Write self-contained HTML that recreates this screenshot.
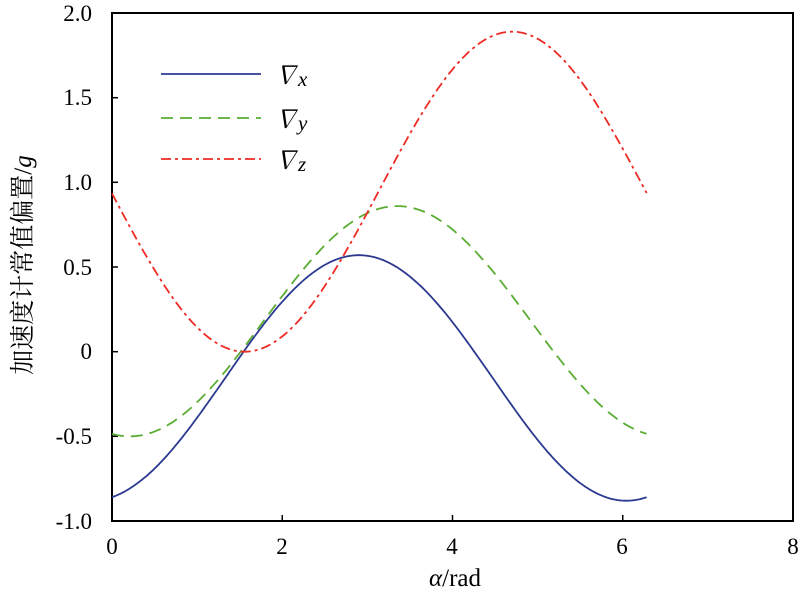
<!DOCTYPE html>
<html><head><meta charset="utf-8"><style>
body{margin:0;background:#fff}
svg text{font-family:"Liberation Serif","Noto Serif CJK SC",serif;fill:#000}
</style></head><body>
<svg id="s" width="800" height="592" viewBox="0 0 800 592" xmlns="http://www.w3.org/2000/svg">
<rect x="112" y="13" width="681" height="508" fill="none" stroke="#000" stroke-width="2"/>
<g stroke="#000" stroke-width="1.5">
<line x1="282.25" y1="521" x2="282.25" y2="515"/><line x1="452.5" y1="521" x2="452.5" y2="515"/><line x1="622.75" y1="521" x2="622.75" y2="515"/>
<line x1="112" y1="436.3" x2="118" y2="436.3"/><line x1="112" y1="351.7" x2="118" y2="351.7"/><line x1="112" y1="267" x2="118" y2="267"/><line x1="112" y1="182.3" x2="118" y2="182.3"/><line x1="112" y1="97.7" x2="118" y2="97.7"/>
</g>
<g font-size="23" text-anchor="middle">
<text x="112" y="554">0</text><text x="282" y="554">2</text><text x="452" y="554">4</text><text x="622" y="554">6</text><text x="793" y="554">8</text>
</g>
<g font-size="23" text-anchor="end">
<text x="92" y="529">-1.0</text><text x="92" y="444">-0.5</text><text x="92" y="359">0</text><text x="92" y="275">0.5</text><text x="92" y="190">1.0</text><text x="92" y="105">1.5</text><text x="92" y="21">2.0</text>
</g>
<text x="455" y="586" font-size="25" text-anchor="middle"><tspan font-style="italic">α</tspan>/rad</text>
<text transform="translate(31,265) rotate(-90)" font-size="25" text-anchor="middle">加速度计常值偏置/<tspan font-style="italic">g</tspan></text>
<path id="px" fill="none" stroke="#2b3990" stroke-width="1.8"/>
<path id="py" fill="none" stroke="#5aad32" stroke-width="1.8" stroke-dasharray="12,7"/>
<path id="pz" fill="none" stroke="#ee2a24" stroke-width="1.8" stroke-dasharray="10,4,3,4"/>
<line x1="161" y1="74" x2="261" y2="74" stroke="#2b3990" stroke-width="1.8"/>
<line x1="161" y1="118" x2="261" y2="118" stroke="#5aad32" stroke-width="1.8" stroke-dasharray="12,7"/>
<line x1="161" y1="159" x2="261" y2="159" stroke="#ee2a24" stroke-width="1.8" stroke-dasharray="10,4,3,4"/>
<g font-size="25" font-style="italic">
<text x="273" y="84">∇<tspan font-size="21" dy="2">x</tspan></text>
<text x="273" y="128">∇<tspan font-size="21" dy="2">y</tspan></text>
<text x="273" y="169">∇<tspan font-size="21" dy="2">z</tspan></text>
</g>
</svg>
<script>
function X(a){return 112+a*85.125}
function Y(v){return 351.7-v*169.33}
function mk(id,m,A,p){var d="";for(var i=0;i<=314;i++){var a=i*0.02;d+=(i?"L":"M")+X(a).toFixed(1)+","+Y(m+A*Math.sin(a+p)).toFixed(1);}document.getElementById(id).setAttribute("d",d);}
mk("px",-0.155,0.725,-1.33);
mk("py",0.18,0.68,-1.78);
mk("pz",0.945,0.945,-3.13);
</script>
</body></html>
